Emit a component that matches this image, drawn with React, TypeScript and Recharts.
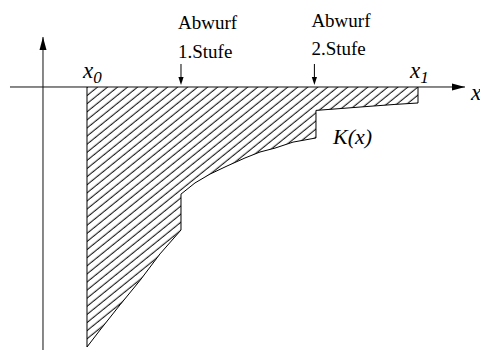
import React from 'react';
import { ComposedChart, Area, XAxis, YAxis, ReferenceLine } from 'recharts';

// Profile K(x) between x0 (= 0) and x1 (= 10); the two vertical jumps are the stage drops.
const profileX = [0, 0, 0.393, 0.997, 1.601, 2.205, 2.84, 2.84, 3.263, 3.716, 4.23, 4.773, 5.227, 5.68, 6.224, 6.918, 6.918, 7.644, 8.459, 9.305, 10, 10];
const profileK = [0, -10, -9.35, -8.38, -7.44, -6.42, -5.5, -4.12, -3.69, -3.35, -3.04, -2.73, -2.5, -2.35, -2.12, -1.96, -0.9, -0.83, -0.75, -0.67, -0.615, 0];

// Stage drop markers
const stageX = [2.84, 6.87];
const stageLine1 = ['Abwurf', 'Abwurf'];
const stageLine2 = ['1.Stufe', '2.Stufe'];

// Coordinate frame
const xDomain: [number, number] = [-2.628, 11.873];
const kDomain: [number, number] = [-10.115, 3.346];
const xAxisFrom = -2.326;
const xAxisTo = 11.42;
const kAxisAt = -1.329;
const kAxisTop = 1.923;

const data = profileX.map((x, i) => ({ x, k: profileK[i] }));

const FONT = '"Liberation Serif", "Times New Roman", serif';

const arrowHead = (x1: number, y1: number, x2: number, y2: number, len: number, half: number) => {
  const dx = x2 - x1;
  const dy = y2 - y1;
  const d = Math.hypot(dx, dy) || 1;
  const ux = dx / d;
  const uy = dy / d;
  const bx = x2 - ux * len;
  const by = y2 - uy * len;
  return `${x2},${y2} ${bx - uy * half},${by + ux * half} ${bx + uy * half},${by - ux * half}`;
};

const AxisArrow = (props: any) => {
  const { x1, y1, x2, y2 } = props;
  return (
    <g>
      <line x1={x1} y1={y1} x2={x2} y2={y2} stroke="#111" strokeWidth={1} />
      <polygon points={arrowHead(x1, y1, x2, y2, 13, 3.5)} fill="#000" />
    </g>
  );
};

const makeStageArrow = (i: number) => (props: any) => {
  const { x1, y1, x2, y2 } = props;
  const top = i === 0 ? 29 : 27;
  const bottom = i === 0 ? 58 : 55;
  return (
    <g>
      <line x1={x1} y1={y1} x2={x2} y2={y2 - 4} stroke="#000" strokeWidth={1} />
      <polygon points={arrowHead(x1, y1, x2, y2, 8, 2.6)} fill="#000" />
      <text x={x1 - 3} y={top} fontFamily={FONT} fontSize={19} fill="#000">
        {stageLine1[i]}
      </text>
      <text x={x1 - 3} y={bottom} fontFamily={FONT} fontSize={19} fill="#000">
        {stageLine2[i]}
      </text>
    </g>
  );
};

export default function App() {
  return (
    <div style={{ position: 'absolute', left: 0, top: 0, background: '#fff' }}>
      <ComposedChart width={480} height={350} data={data} margin={{ top: 0, right: 0, bottom: 0, left: 0 }}>
        <defs>
          <pattern id="hatch" patternUnits="userSpaceOnUse" width="12" height="6.3" patternTransform="rotate(-39)">
            <line x1="0" y1="3" x2="12" y2="3" stroke="#000" strokeWidth="1" />
          </pattern>
        </defs>
        <XAxis type="number" dataKey="x" domain={xDomain} hide allowDataOverflow />
        <YAxis type="number" domain={kDomain} hide allowDataOverflow />
        <Area
          type="linear"
          dataKey="k"
          baseValue={0}
          fill="url(#hatch)"
          fillOpacity={1}
          stroke="#000"
          strokeWidth={1}
          dot={false}
          activeDot={false}
          isAnimationActive={false}
        />
        <ReferenceLine
          ifOverflow="visible"
          segment={[{ x: xAxisFrom, y: 0 }, { x: xAxisTo, y: 0 }]}
          shape={AxisArrow}
        />
        <ReferenceLine
          ifOverflow="visible"
          segment={[{ x: kAxisAt, y: kDomain[0] }, { x: kAxisAt, y: kAxisTop }]}
          shape={AxisArrow}
        />
        {stageX.map((sx, i) => (
          <ReferenceLine
            key={i}
            ifOverflow="visible"
            segment={[{ x: sx, y: 0.885 }, { x: sx, y: 0.077 }]}
            shape={makeStageArrow(i)}
          />
        ))}
        <text x={83} y={78} fontFamily={FONT} fontStyle="italic" fontSize={23} fill="#000">
          x<tspan dy={5} fontSize={17}>0</tspan>
        </text>
        <text x={410} y={78} fontFamily={FONT} fontStyle="italic" fontSize={23} fill="#000">
          x<tspan dy={5} fontSize={17}>1</tspan>
        </text>
        <text x={471} y={100} fontFamily={FONT} fontStyle="italic" fontSize={23} fill="#000">
          x
        </text>
        <text x={333} y={144} fontFamily={FONT} fontStyle="italic" fontSize={22} fill="#000">
          K(x)
        </text>
      </ComposedChart>
    </div>
  );
}
